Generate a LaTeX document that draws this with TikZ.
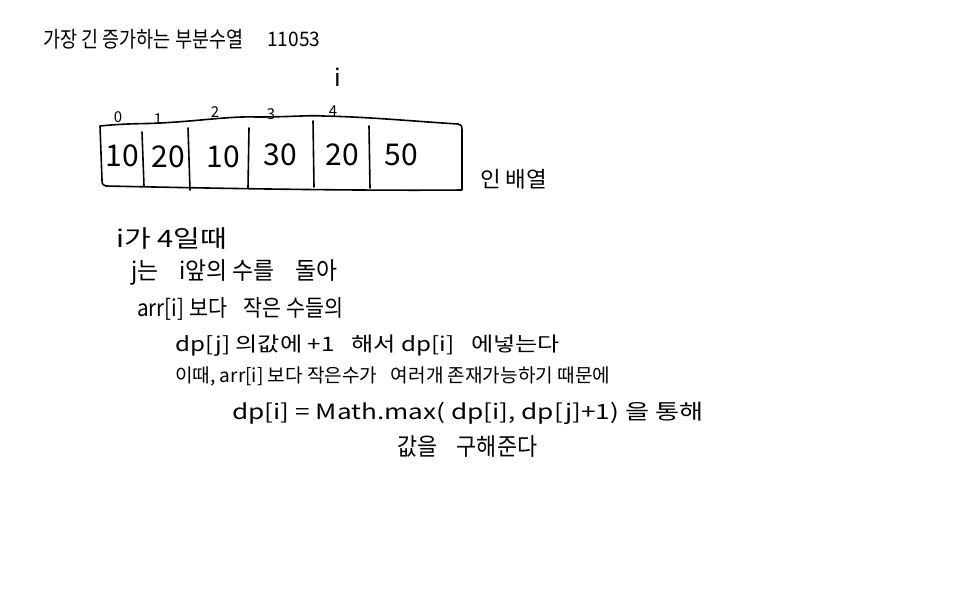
\documentclass[tikz,border=0pt]{standalone}
\usepackage{fontspec}
\setmainfont{Noto Sans CJK KR}
\usepackage{graphicx}
\newcommand{\fitw}[3]{{\fontsize{#2}{#2}\selectfont\resizebox{#1}{\height}{#3}}}
\begin{document}
\begin{tikzpicture}[x=1pt,y=-1pt,
  hand/.style={line width=1.6pt, line cap=round, line join=round, black},
  txt/.style={anchor=west, inner sep=0pt, black},
  idx/.style={inner sep=0pt, font=\fontsize{15}{15}\selectfont},
  cell/.style={inner sep=0pt, font=\fontsize{30}{30}\selectfont}]
\useasboundingbox[fill=white] (0,0) rectangle (960,600);

% title
\node[txt] (title) at (43,39) {\fitw{200pt}{22}{가장 긴 증가하는 부분수열}};
\node[txt] (num) at (267,39) {\fitw{53pt}{20}{11053}};

% pointer i
\node[inner sep=0pt, font=\fontsize{24}{24}\selectfont] (ptr) at (338,77) {i};

% indices
\node[idx] (i0) at (118,117) {0};
\node[idx] (i1) at (158,119) {1};
\node[idx] (i2) at (215,112) {2};
\node[idx] (i3) at (271,114) {3};
\node[idx] (i4) at (333,111) {4};

% array box
\draw[hand] (100,126) .. controls (130,123) and (145,124) .. (160,123)
  .. controls (200,121) and (230,116) .. (257,117)
  .. controls (290,117) and (310,115) .. (323,116)
  .. controls (370,117) and (410,121) .. (458,124)
  .. controls (461,124) and (462,126) .. (462,130)
  -- (462,190)
  .. controls (350,191) and (200,188) .. (106,186)
  .. controls (103,186) and (102,184) .. (102,180) -- cycle;
\draw[hand] (142,132) -- (144,186);
\draw[hand] (188,128) -- (190,190);
\draw[hand] (249,128) -- (248,188);
\draw[hand] (313,121) -- (314,187);
\draw[hand] (369,126) -- (370,188);

\node[cell] (c0) at (122,156) {10};
\node[cell] (c1) at (168,157) {20};
\node[cell] (c2) at (223,157) {10};
\node[cell] (c3) at (280,155) {30};
\node[cell] (c4) at (342,155) {20};
\node[cell] (c5) at (401,155) {50};

\node[txt] (arrlbl) at (480,179) {\fitw{67pt}{22}{인 배열}};

% explanation
\node[txt] (l1) at (116,239) {\fitw{111pt}{24}{i가 4일때}};
\node[txt] (l2) at (131,272) {\fitw{206pt}{24}{j는\hspace{0.9em}i앞의 수를\hspace{0.9em}돌아}};
\node[txt] (l3) at (137,309) {\fitw{206pt}{23}{arr[i] 보다\hspace{0.8em}작은 수들의}};
\node[txt] (l4) at (175,346) {\fitw{385pt}{20}{dp[j] 의값에 +1\hspace{0.7em}해서 dp[i]\hspace{0.7em}에넣는다}};
\node[txt] (l5) at (175,376) {\fitw{435pt}{19}{이때, arr[i] 보다 작은수가\hspace{0.7em}여러개 존재가능하기 때문에}};
\node[txt] (l6) at (232,413) {\fitw{471pt}{21}{dp[i] = Math.max( dp[i], dp[j]+1) 을 통해}};
\node[txt] (l7) at (397,447) {\fitw{140pt}{24}{값을\hspace{0.9em}구해준다}};
\end{tikzpicture}
\end{document}
